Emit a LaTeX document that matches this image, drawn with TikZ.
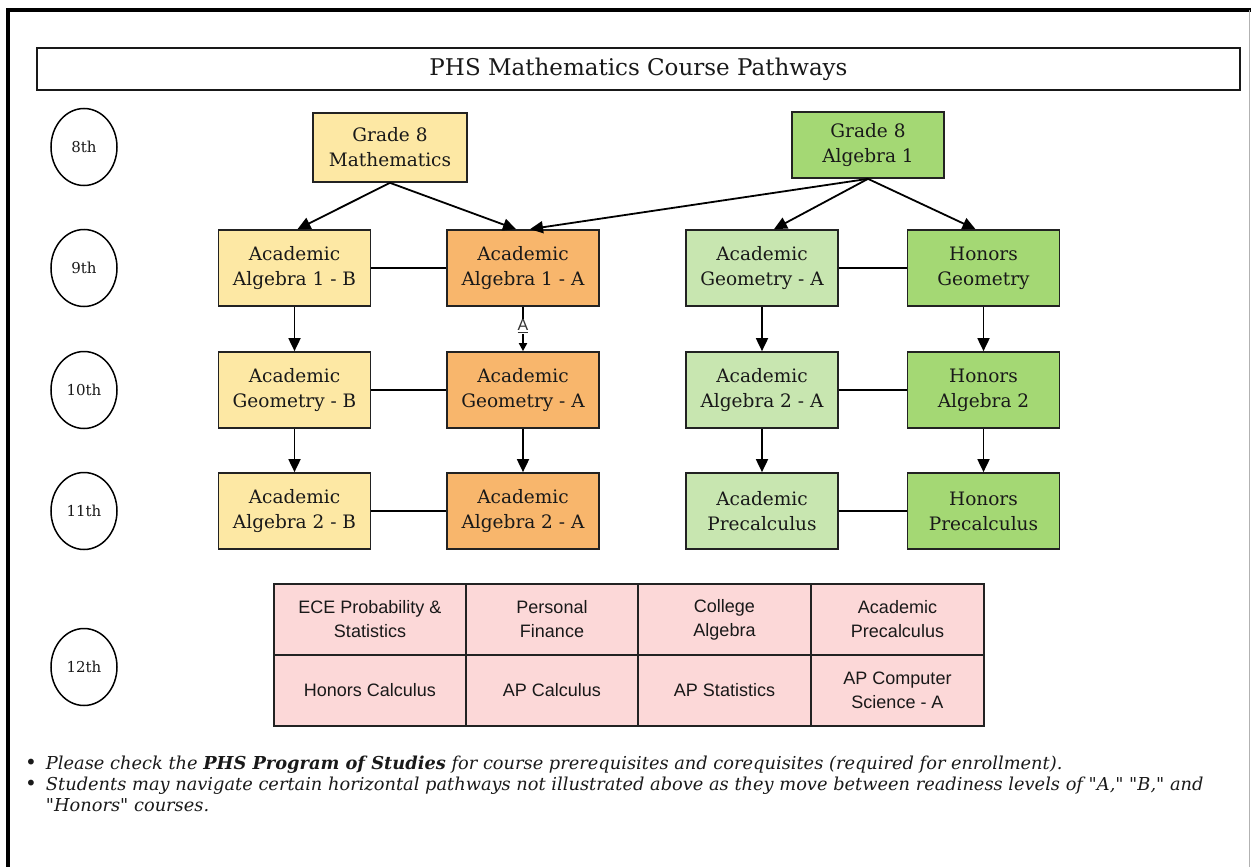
\documentclass[tikz,border=0pt]{standalone}
\usepackage{fontspec}
\setmainfont{DejaVu Serif}
\newfontfamily\tabfont{Liberation Sans}
\newfontfamily\notefont[Ligatures=TeXOff]{DejaVu Serif}
\usetikzlibrary{arrows.meta,shapes.geometric,calc}
\definecolor{cyellow}{HTML}{FDE8A4}
\definecolor{corange}{HTML}{F8B66C}
\definecolor{clgreen}{HTML}{C8E6B0}
\definecolor{cgreen}{HTML}{A4D874}
\definecolor{cpink}{HTML}{FCD8D8}
\definecolor{cedge}{HTML}{222222}
\begin{document}
\begin{tikzpicture}[x=1pt,y=-1pt,
  box/.style={draw=cedge, line width=1.7pt, minimum width=152pt, minimum height=76pt,
    inner sep=2pt, align=center, font=\fontsize{18.5}{25}\selectfont, text=black!90},
  grade/.style={draw=black, line width=1.5pt, ellipse, minimum width=66pt, minimum height=77pt,
    inner sep=0pt, font=\fontsize{15}{16}\selectfont, text=black!90},
  cell/.style={draw=cedge, line width=1.6pt, fill=cpink, align=center, inner sep=0pt,
    minimum height=71pt, font=\tabfont\fontsize{18}{24}\selectfont, text=black!90},
  arr/.style={line width=1.8pt, draw=black, -{Triangle[width=12pt,length=13pt]}},
  link/.style={line width=1.8pt, draw=black}
]
\useasboundingbox (0,0) rectangle (1251,867);
% frame
\draw[line width=3.5pt] (8,867) -- (8,10) -- (1251,10);
\draw[line width=1pt, gray!60] (1249,10) -- (1249,867);

% title
\node[draw=black!90, line width=1.6pt, minimum width=1203pt, minimum height=42pt,
  font=\fontsize{23}{26}\selectfont, text=black!90] (title) at (638.5,69) {PHS Mathematics Course Pathways};

% grade circles
\node[grade] (c8)  at (84,147) {8th};
\node[grade] (c9)  at (84,268) {9th};
\node[grade] (c10) at (84,390) {10th};
\node[grade] (c11) at (84,511) {11th};
\node[grade] (c12) at (84,667) {12th};

% grade 8
\node[box, fill=cyellow, minimum width=154pt, minimum height=69pt] (g8m) at (390,147.5) {Grade 8\\Mathematics};
\node[box, fill=cgreen, minimum width=152pt, minimum height=66pt] (g8a) at (868,145) {Grade 8\\Algebra 1};

% 9th
\node[box, fill=cyellow] (a1b) at (294.5,268) {Academic\\Algebra 1 - B};
\node[box, fill=corange] (a1a) at (523,268) {Academic\\Algebra 1 - A};
\node[box, fill=clgreen] (gag) at (762,268) {Academic\\Geometry - A};
\node[box, fill=cgreen] (hg) at (983.5,268) {Honors\\Geometry};
% 10th
\node[box, fill=cyellow] (gb) at (294.5,390) {Academic\\Geometry - B};
\node[box, fill=corange] (ga) at (523,390) {Academic\\Geometry - A};
\node[box, fill=clgreen] (a2ag) at (762,390) {Academic\\Algebra 2 - A};
\node[box, fill=cgreen] (ha2) at (983.5,390) {Honors\\Algebra 2};
% 11th
\node[box, fill=cyellow] (a2b) at (294.5,511) {Academic\\Algebra 2 - B};
\node[box, fill=corange] (a2a) at (523,511) {Academic\\Algebra 2 - A};
\node[box, fill=clgreen] (apc) at (762,511) {Academic\\Precalculus};
\node[box, fill=cgreen] (hpc) at (983.5,511) {Honors\\Precalculus};

% horizontal links
\draw[link] (a1b.east) -- (a1a.west);
\draw[link] (gb.east) -- (ga.west);
\draw[link] (a2b.east) -- (a2a.west);
\draw[link] (gag.east) -- (hg.west);
\draw[link] (a2ag.east) -- (ha2.west);
\draw[link] (apc.east) -- (hpc.west);

% arrows from grade 8
\draw[arr] (g8m.south) -- ($(a1b.north)+(3,0)$);
\draw[arr] (g8m.south) -- ($(a1a.north)+(-7,0)$);
\draw[arr] (g8a.south) -- ($(a1a.north)+(7,0)$);
\draw[arr] (g8a.south) -- ($(gag.north)+(12,0)$);
\draw[arr] (g8a.south) -- ($(hg.north)+(-8,0)$);

% vertical arrows
\draw[arr] (a1b.south) -- (gb.north);
\draw[arr] (gb.south) -- (a2b.north);
\draw[arr] (ga.south) -- (a2a.north);
\draw[arr] (gag.south) -- (a2ag.north);
\draw[arr] (a2ag.south) -- (apc.north);
\draw[arr] (hg.south) -- (ha2.north);
\draw[arr] (ha2.south) -- (hpc.north);
% labelled arrow A
\draw[line width=1.8pt, -{Triangle[width=8pt,length=8pt]}] (a1a.south) -- (ga.north)
  node[pos=0.44, fill=white, inner sep=1pt, font=\tabfont\fontsize{16}{17}\selectfont, text=black!80] (lblA) {\underline{A}};

% 12th table
\node[cell, minimum width=192pt] (t11) at (370,619.5) {ECE Probability \&\\Statistics};
\node[cell, minimum width=172pt] (t12) at (552,619.5) {Personal\\Finance};
\node[cell, minimum width=173pt] (t13) at (724.5,619.5) {College\\Algebra};
\node[cell, minimum width=173pt] (t14) at (897.5,619.5) {Academic\\Precalculus};
\node[cell, minimum width=192pt] (t21) at (370,690.5) {Honors Calculus};
\node[cell, minimum width=172pt] (t22) at (552,690.5) {AP Calculus};
\node[cell, minimum width=173pt] (t23) at (724.5,690.5) {AP Statistics};
\node[cell, minimum width=173pt] (t24) at (897.5,690.5) {AP Computer\\Science - A};

% footnotes
\node[anchor=north west, inner sep=0pt, align=left, text=black!90,
  font=\notefont\fontsize{17.8}{21}\selectfont] (notes) at (25,755) {%
  \begin{tabular}{@{}l@{\hspace{9pt}}l@{}}
  {\normalfont\fontsize{20}{21}\selectfont\raisebox{0pt}{•}} & \itshape Please check the \textbf{PHS Program of Studies} for course prerequisites and corequisites (required for enrollment).\\
  {\normalfont\fontsize{20}{21}\selectfont\raisebox{0pt}{•}} & \itshape Students may navigate certain horizontal pathways not illustrated above as they move between readiness levels of "A," "B," and\\
  & \itshape "Honors" courses.
  \end{tabular}};
\end{tikzpicture}
\end{document}
